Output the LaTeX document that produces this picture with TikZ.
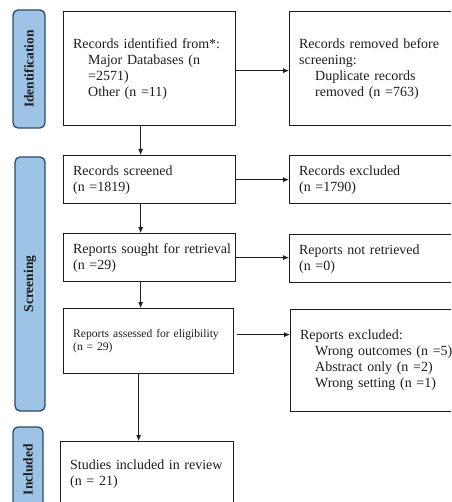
\documentclass[tikz,border=0pt]{standalone}
\usepackage{fontspec}
\setmainfont{Liberation Serif}
\usetikzlibrary{arrows.meta,calc}
\definecolor{pillfill}{HTML}{9DC3E6}
\definecolor{pillborder}{HTML}{2F4A66}
\definecolor{ink}{HTML}{1E1E1E}
\begin{document}
\begin{tikzpicture}[x=1pt,y=-1pt,
  box/.style={draw=ink, line width=1.3pt, rectangle, anchor=north west, align=left,
    inner xsep=9.5pt, inner ysep=0pt, font=\fontsize{14}{16}\selectfont, text=ink},
  smallbox/.style={box, font=\fontsize{11.6}{13}\selectfont},
  pill/.style={draw=pillborder, fill=pillfill, line width=1.3pt, rounded corners=5pt,
    inner sep=0pt, rotate=90, font=\bfseries\fontsize{13.5}{16}\selectfont, text=ink},
  arr/.style={-{Latex[length=6pt,width=5pt]}, line width=0.8pt, draw=ink}]
\useasboundingbox (0,0) rectangle (451,502);
\clip (0,0) rectangle (451,502);
\fill[white] (0,0) rectangle (451,502);

% phase labels
\node[pill, minimum width=118pt, minimum height=32pt] (pid) at (29,69) {Identification};
\node[pill, minimum width=254pt, minimum height=30pt] (psc) at (30,284) {Screening};
\node[pill, minimum width=85pt, minimum height=30pt] (pin) at (28,469.5) {Included};

% left column
\node[box, text width=153pt, minimum height=114pt] (b1) at (63,11)
  {\mbox{Records identified from*:}\\\hspace*{15pt}Major Databases (n\\\hspace*{15pt}=2571)\\\hspace*{15pt}Other (n =11)};
\node[box, text width=153pt, minimum height=48pt] (b2) at (63,155)
  {Records screened\\(n =1819)};
\node[box, text width=153pt, minimum height=48pt] (b3) at (63,233)
  {\mbox{Reports sought for retrieval}\\(n =29)};
\node[smallbox, text width=151pt, minimum height=65pt] (b4) at (63,308)
  {\mbox{Reports assessed for eligibility}\\(n = 29)};
\node[box, text width=154pt, minimum height=64pt] (b5) at (60,441)
  {\mbox{Studies included in review}\\(n = 21)};

% right column
\node[box, text width=171pt, minimum height=114pt] (r1) at (289,11)
  {Records removed before\\screening:\\\hspace*{16pt}Duplicate records\\\hspace*{16pt}removed (n =763)};
\node[box, text width=171pt, minimum height=48pt] (r2) at (289,155)
  {Records excluded\\(n =1790)};
\node[box, text width=171pt, minimum height=48pt] (r3) at (289,234)
  {Reports not retrieved\\(n =0)};
\node[box, text width=171pt, minimum height=102pt] (r4) at (290,309)
  {Reports excluded:\\\hspace*{15pt}\mbox{Wrong outcomes (n =5)}\\\hspace*{15pt}Abstract only (n =2)\\\hspace*{15pt}Wrong setting (n =1)};

% vertical arrows
\draw[arr] ([xshift=-9pt]b1.south) -- ([xshift=-9pt]b1.south |- b2.north);
\draw[arr] ([xshift=-9pt]b2.south) -- ([xshift=-9pt]b2.south |- b3.north);
\draw[arr] ([xshift=-9pt]b3.south) -- ([xshift=-9pt]b3.south |- b4.north);
\draw[arr] ([xshift=-10pt]b4.south) -- ([xshift=-10pt]b4.south |- b5.north);

% horizontal arrows
\draw[arr] ([yshift=-2pt]b1.east) -- ([yshift=-2pt]b1.east -| r1.west);
\draw[arr] (b2.east) -- (b2.east -| r2.west);
\draw[arr] (b3.east) -- (b3.east -| r3.west);
\draw[arr] ([xshift=3pt,yshift=6.5pt]b4.east) -- ([yshift=6.5pt]b4.east -| r4.west);
\end{tikzpicture}
\end{document}
